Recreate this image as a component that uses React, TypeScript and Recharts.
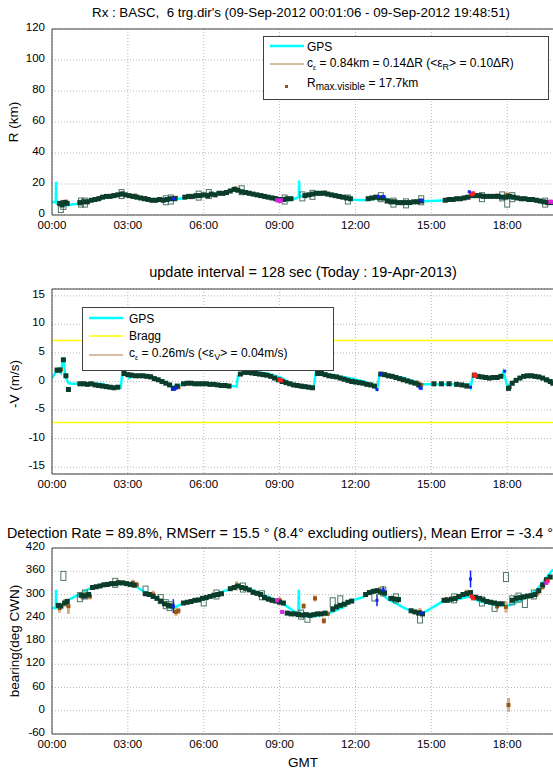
import React from "react";
import {
  CartesianGrid,
  ComposedChart,
  ErrorBar,
  Line,
  ReferenceLine,
  Scatter,
  XAxis,
  YAxis,
} from "recharts";

type P = [number, number];
type PE = [number, number, number];

// time axis (hours GMT)
const xDomain = [0, 19.85];
const xTicks = [0, 3, 6, 9, 12, 15, 18];

// ---- range panel (km) ----
const rangeTicks = [0, 20, 40, 60, 80, 100, 120];
const gpsRange: P[] = [
  [0, 8.4], [0.15, 8.5], [0.16, 21.5], [0.17, 7.5], [0.22, 7], [0.5, 6.2], [1.0, 7.3], [1.5, 9.5],
  [2.0, 11.6], [2.5, 12.5], [2.8, 13.4], [3.1, 12.3], [3.5, 11], [4.0, 10], [4.4, 9], [4.9, 10.1],
  [5.5, 11.6], [6.0, 12.7], [6.6, 13.8], [7.0, 15.6], [7.3, 16.5], [7.7, 14.5], [8.3, 12], [8.9, 10],
  [9.15, 9], [9.6, 10.5], [9.76, 11.6], [9.77, 22.2], [9.79, 11.8], [9.82, 12], [10.1, 12.7],
  [10.5, 14.3], [11.0, 13.4], [11.4, 11.6], [11.95, 9.9], [12.4, 9.5], [12.8, 10.5], [13.1, 11.6],
  [13.35, 9.5], [13.6, 8.1], [14.05, 7.7], [14.6, 8.8], [15.0, 9], [15.6, 9.5], [16.2, 10.5],
  [16.6, 12], [17.0, 12.3], [17.6, 12], [18.1, 11], [18.7, 10.3], [19.2, 9], [19.7, 8.4], [19.85, 8],
];
const rangeObs: P[] = [
  [0.3, 7.5], [0.4, 6.5], [0.5, 8], [0.6, 7.5],
  [1.1, 8], [1.25, 8.5], [1.4, 8.5], [1.55, 9.5], [1.7, 10], [1.85, 10.5], [2.0, 11.5], [2.15, 12],
  [2.3, 12], [2.45, 12.5], [2.6, 13], [2.75, 13.5], [2.9, 13], [3.05, 12.5], [3.2, 12], [3.35, 11.5],
  [3.5, 11], [3.65, 10.5], [3.8, 10], [3.95, 9.5], [4.1, 9.5], [4.25, 10], [4.4, 9.5], [4.55, 10],
  [4.7, 10.5], [4.85, 10.5],
  [5.25, 11.5], [5.4, 12], [5.55, 12], [5.7, 12.5], [5.85, 12.5], [6.0, 13], [6.15, 12.5], [6.3, 13.5],
  [6.45, 13], [6.6, 14], [6.75, 14], [6.9, 14.5], [7.05, 15.5], [7.2, 16.5], [7.35, 16], [7.5, 15],
  [7.65, 14.5], [7.8, 14], [7.95, 13.5], [8.1, 13], [8.25, 12.5], [8.4, 12], [8.55, 11.5], [8.7, 11],
  [8.85, 10.5], [9.0, 10], [9.15, 10], [9.3, 10.5], [9.45, 10.5],
  [10.0, 12.5], [10.15, 13], [10.3, 13.5], [10.45, 14], [10.6, 14], [10.75, 14], [10.9, 13.5],
  [11.05, 13], [11.2, 12.5], [11.35, 12], [11.5, 11.5], [11.65, 11], [11.8, 10.5],
  [12.5, 10.5], [12.65, 11], [12.8, 11.5], [12.95, 11], [13.1, 11], [13.25, 9], [13.4, 8.5],
  [13.55, 8.5], [13.7, 8], [13.85, 8], [14.0, 8], [14.15, 8], [14.3, 8.5], [14.45, 8.5], [14.6, 9],
  [15.55, 9.5], [15.7, 10], [15.85, 10], [16.0, 10.5], [16.15, 10.5], [16.3, 11], [16.45, 11.5],
  [16.6, 12.5], [16.75, 12.5], [16.9, 12.5], [17.05, 12], [17.2, 12], [17.35, 12], [17.5, 12],
  [17.65, 12], [17.8, 11.5], [17.95, 11.5], [18.1, 12], [18.25, 11.5], [18.4, 11], [18.55, 10.5],
  [18.7, 10.5], [18.85, 10], [19.0, 10], [19.15, 9.5], [19.3, 9], [19.45, 8.5], [19.6, 8], [19.75, 8],
];
const rangeBrown: PE[] = [
  [0.35, 7, 1.5], [0.55, 8.5, 1.5], [1.15, 7.5, 1], [1.9, 11, 1], [2.4, 12.5, 1], [2.8, 14, 1],
  [3.3, 12.5, 1], [3.7, 11, 1], [4.3, 10, 1], [4.9, 11, 1.5], [5.5, 11.5, 1], [6.2, 13, 1],
  [6.8, 14, 1.5], [7.25, 17, 1.5], [7.7, 14.5, 1], [8.3, 12.5, 1], [8.8, 11, 1], [10.2, 13, 1],
  [10.8, 14.5, 1], [11.4, 12, 1], [12.7, 11, 1], [13.3, 9.5, 1], [14.1, 8, 1], [14.5, 9, 1],
  [15.9, 10, 1], [16.4, 11.5, 1], [17.0, 12.5, 1], [17.6, 12.5, 1], [18.0, 13, 1.5], [18.6, 10.5, 1],
  [19.2, 9.5, 1], [19.7, 8.5, 1],
];
const rangeBoxes: P[] = [
  [0.35, 4.5], [0.45, 6.5], [1.15, 8], [1.3, 8], [2.75, 13.5], [4.5, 9.5], [4.7, 10], [5.8, 12.5],
  [6.2, 13.5], [7.5, 16], [9.2, 10], [9.9, 12], [10.3, 13], [11.7, 10], [13.0, 11.5], [13.5, 8],
  [14.0, 7.5], [14.6, 9.5], [17.0, 11.5], [17.8, 12], [18.0, 8], [18.2, 11.5], [19.5, 8],
];
const rangeRed: P[] = [[16.6, 13.5], [16.65, 14]];
const rangeMagenta: P[] = [[8.9, 9.5], [9.0, 9], [9.05, 9.5], [19.7, 8.5], [19.8, 8.5]];
const rangeBlue: P[] = [[4.8, 10.5], [12.9, 12], [13.1, 12], [14.6, 9.5], [16.5, 15]];

// ---- radial velocity panel (m/s) ----
const velTicks = [-15, -10, -5, 0, 5, 10, 15];
const braggLevels = [7.2, -7.2];
const gpsVel: P[] = [
  [0, 0.6], [0.15, 1.6], [0.25, 2.0], [0.35, 1.5], [0.42, 3.5], [0.47, 3.6], [0.52, 0.9], [0.65, -0.3],
  [0.8, -0.4], [1.2, -0.4], [2.0, -0.4], [2.1, -0.7], [2.25, -1.1], [2.72, -1.1], [2.78, 1.5],
  [2.95, 1.3], [3.05, 0.6], [3.15, 0.9], [3.35, 1.0], [3.8, 1.0], [4.0, 0.8], [4.2, 0.3], [4.5, -0.3],
  [4.8, -1.0], [4.9, -0.8], [5.2, -0.4], [6.3, -0.4], [6.9, -0.6], [7.3, -0.9], [7.35, 1.0],
  [7.5, 1.3], [7.7, 1.7], [8.0, 1.6], [8.5, 1.4], [8.8, 1.0], [9.1, 0.6], [9.4, -0.3], [9.9, -0.8],
  [10.35, -1.1], [10.42, 1.4], [10.9, 1.3], [11.3, 0.9], [11.9, 0.5], [12.3, 0], [12.7, -0.6],
  [12.85, -1.4], [12.95, 1.3], [13.3, 1.1], [13.9, 0.6], [14.3, 0], [14.5, -0.6], [14.55, -1.1],
  [14.65, -0.5], [16.5, -0.5], [16.55, -1.0], [16.65, 1.1], [16.9, 0.8], [17.5, 0.6], [17.75, 0.8],
  [17.85, 1.8], [18.0, -0.8], [18.15, -0.3], [18.45, 0.5], [18.7, 1.0], [19.0, 1.0], [19.4, 0.6],
  [19.7, 0], [19.85, -0.3],
];
const velObs: P[] = [
  [0.2, 2.0], [0.3, 2.0], [0.45, 3.8], [0.55, 1.0], [0.65, -1.4],
  [1.1, -0.4], [1.25, -0.4], [1.4, -0.5], [1.55, -0.4], [1.7, -0.6], [1.85, -0.7], [2.0, -0.8],
  [2.15, -0.9], [2.3, -1.0], [2.45, -1.1], [2.6, -1.0],
  [2.85, 1.4], [3.0, 1.2], [3.15, 1.1], [3.3, 1.0], [3.45, 1.0], [3.6, 1.0], [3.75, 0.9], [3.9, 0.8],
  [4.05, 0.5], [4.2, 0.3], [4.35, 0], [4.5, -0.3], [4.65, -0.6], [4.8, -1.2], [4.95, -0.8],
  [5.2, -0.4], [5.35, -0.3], [5.5, -0.3], [5.65, -0.4], [5.8, -0.4], [5.95, -0.4], [6.1, -0.4],
  [6.25, -0.5], [6.4, -0.5], [6.55, -0.6], [6.7, -0.7], [6.85, -0.7], [7.0, -0.8],
  [7.45, 1.3], [7.6, 1.6], [7.75, 1.6], [7.9, 1.5], [8.05, 1.4], [8.2, 1.3], [8.35, 1.2], [8.5, 1.1],
  [8.65, 0.9], [8.8, 0.6], [8.95, 0.3], [9.1, 0], [9.25, -0.2], [9.4, -0.4], [9.55, -0.6],
  [9.7, -0.7], [9.85, -0.8], [10.0, -0.9], [10.15, -1.0], [10.3, -1.1],
  [10.5, 1.4], [10.65, 1.4], [10.8, 1.2], [10.95, 1.0], [11.1, 0.9], [11.25, 0.8], [11.4, 0.6],
  [11.55, 0.4], [11.7, 0.2], [11.85, 0], [12.0, -0.1], [12.15, -0.2], [12.3, -0.3], [12.45, -0.5],
  [12.6, -0.6], [12.75, -0.8],
  [13.0, 1.3], [13.15, 1.2], [13.3, 1.0], [13.45, 0.9], [13.6, 0.7], [13.75, 0.5], [13.9, 0.3],
  [14.05, 0.1], [14.2, -0.1], [14.35, -0.3], [14.5, -0.6],
  [15.1, -0.4], [15.4, -0.4], [15.7, -0.4], [16.0, -0.5], [16.2, -0.6], [16.4, -0.8],
  [16.7, 1.1], [16.85, 0.9], [17.0, 0.8], [17.15, 0.7], [17.3, 0.6], [17.45, 0.7], [17.6, 0.7],
  [17.75, 0.9], [18.05, -1.2], [18.2, -0.3], [18.35, 0.2], [18.5, 0.6], [18.65, 0.9], [18.8, 1.0],
  [18.95, 1.0], [19.1, 0.9], [19.25, 0.8], [19.4, 0.6], [19.55, 0.3], [19.7, 0], [19.8, -0.3],
];
const velBrown: PE[] = [
  [0.35, 2.1, 0.2], [1.3, -0.4, 0.1], [2.1, -0.8, 0.1], [3.1, 1.2, 0.1], [3.9, 0.9, 0.1],
  [5.0, -1.0, 0.2], [6.0, -0.4, 0.1], [7.0, -0.8, 0.1], [7.7, 1.6, 0.1], [8.3, 1.3, 0.1],
  [9.9, -0.9, 0.1], [10.7, 1.3, 0.1], [11.9, 0.1, 0.1], [13.2, 1.1, 0.1], [14.45, -0.2, 0.1],
  [14.6, -0.6, 0.2], [16.3, -0.7, 0.1], [17.4, 0.7, 0.1], [18.1, -1.0, 0.2], [19.0, 1.0, 0.1],
  [19.6, 0.2, 0.1],
];
const velRed: P[] = [[9.0, 0.3], [9.05, 0.2], [16.7, 1.2], [16.75, 1.0]];
const velBlue: P[] = [
  [4.8, -1.3], [4.9, -1.2], [12.85, -1.4], [13.0, 1.3], [14.55, -1.1], [14.6, -1.2], [16.55, -1.0],
  [17.9, 1.8],
];

// ---- bearing panel (deg CWN) ----
const brgTicks = [-60, 0, 60, 120, 180, 240, 300, 360, 420];
const gpsBrg: P[] = [
  [0, 265], [0.15, 265], [0.16, 312], [0.17, 268], [0.4, 275], [0.73, 289], [1.14, 302], [1.56, 318],
  [2.0, 325], [2.5, 329], [3.0, 330], [3.3, 322], [3.8, 300], [4.2, 288], [4.6, 268], [4.77, 264],
  [5.3, 281], [5.75, 285], [6.3, 297], [6.86, 310], [7.4, 320], [7.7, 317], [8.26, 302], [8.8, 287],
  [9.1, 277], [9.5, 260], [9.74, 248], [9.76, 312], [9.78, 246], [10.2, 242], [10.9, 250],
  [11.5, 267], [11.9, 285], [12.3, 293], [12.7, 312], [12.86, 310], [13.3, 287], [14.0, 263],
  [14.6, 250], [14.95, 263], [15.4, 280], [15.65, 285], [16.1, 289], [16.5, 295], [16.8, 285],
  [17.3, 276], [17.8, 272], [18.1, 272], [18.7, 290], [19.15, 311], [19.45, 335], [19.75, 360],
  [19.85, 365],
];
const brgObs: P[] = [
  [0.25, 272], [0.35, 270], [0.5, 278], [0.6, 282],
  [1.15, 298], [1.3, 296], [1.45, 300], [1.6, 318], [1.75, 320], [1.9, 322], [2.05, 325],
  [2.2, 326], [2.35, 328], [2.5, 328], [2.65, 330], [2.8, 330], [2.95, 328], [3.1, 326], [3.25, 324],
  [3.7, 302], [3.85, 300], [4.0, 295], [4.15, 290], [4.3, 283], [4.45, 276], [4.6, 272], [4.75, 270],
  [5.2, 278], [5.35, 280], [5.5, 282], [5.65, 285], [5.8, 286], [5.95, 290], [6.1, 292], [6.25, 295],
  [6.4, 298], [6.55, 300], [6.7, 302], [7.05, 315], [7.2, 318], [7.35, 322], [7.5, 318], [7.65, 316],
  [7.8, 312], [7.95, 306], [8.1, 303], [8.25, 300], [8.4, 292], [8.55, 288], [8.7, 285], [8.85, 283],
  [9.0, 280], [9.15, 278],
  [9.3, 252], [9.45, 250], [9.6, 250], [9.75, 248], [9.9, 247], [10.05, 248], [10.2, 246],
  [10.35, 248], [10.5, 250], [10.65, 250], [10.8, 252],
  [11.1, 262], [11.25, 268], [11.4, 272], [11.55, 275], [11.7, 280], [11.85, 283],
  [12.4, 300], [12.55, 305], [12.7, 308], [12.85, 310], [13.0, 306], [13.15, 304],
  [13.4, 290], [13.55, 288], [13.7, 287],
  [14.2, 258], [14.35, 255], [14.5, 252], [14.65, 250],
  [15.5, 285], [15.65, 285], [15.8, 288], [15.95, 290], [16.1, 295], [16.25, 300], [16.4, 302],
  [16.55, 305], [16.75, 293], [16.9, 290], [17.05, 286], [17.2, 282], [17.35, 280], [17.5, 278],
  [17.65, 276], [17.8, 276],
  [18.2, 285], [18.35, 290], [18.5, 292], [18.65, 294], [18.8, 296], [18.95, 297], [19.1, 300],
  [19.25, 310], [19.4, 325], [19.55, 338], [19.7, 345],
];
const brgBrown: PE[] = [
  [0.3, 265, 12], [0.5, 278, 10], [0.65, 270, 20], [1.2, 295, 10], [1.35, 300, 8], [1.5, 295, 8],
  [2.2, 325, 6], [2.6, 332, 6], [3.2, 330, 8], [3.35, 325, 8], [4.0, 300, 10], [4.9, 255, 10],
  [5.0, 258, 8], [5.5, 282, 6], [6.6, 300, 6], [7.3, 322, 12], [7.95, 305, 6], [9.0, 285, 8],
  [9.95, 270, 8], [10.4, 290, 8], [10.75, 232, 8], [10.9, 250, 6], [11.6, 275, 6], [12.95, 310, 10],
  [13.5, 290, 6], [14.55, 255, 10], [15.6, 288, 6], [16.4, 305, 8], [17.6, 270, 8],
  [17.95, 268, 15], [18.05, 15, 18], [19.2, 305, 8], [19.4, 320, 8],
];
const brgBoxes: P[] = [
  [0.45, 348], [1.1, 293], [1.3, 300], [2.5, 330], [3.7, 310], [4.3, 288], [4.5, 275], [4.65, 270],
  [6.0, 282], [6.5, 300], [7.55, 318], [8.3, 298], [9.85, 248], [10.1, 240], [11.1, 280],
  [11.4, 285], [12.75, 295], [13.1, 308], [13.6, 290], [14.55, 238], [15.9, 290], [17.0, 282],
  [17.5, 268], [17.95, 345], [18.2, 285], [18.45, 292], [18.7, 278], [19.05, 300],
];
const brgRed: P[] = [[16.6, 295], [16.65, 290], [19.6, 335]];
const brgMagenta: P[] = [[8.9, 285], [9.1, 255], [19.55, 330]];
const brgBlue: PE[] = [[4.8, 270, 18], [12.85, 285, 15], [13.1, 312, 10], [14.6, 252, 8], [16.55, 340, 22]];

const FONT = "'Liberation Sans', Arial, Helvetica, sans-serif";
const AX = "#404040";
const CYAN = "#00ffff";
const DARK = "#0b3d2c";
const BROWN = "#9a5518";
const TAN = "#d8ad86";

const pts = (a: P[]) => a.map(([t, v]) => ({ t, v }));
const ptsE = (a: PE[]) => a.map(([t, v, e]) => ({ t, v, e }));
const hhmm = (t: number) => `${String(t).padStart(2, "0")}:00`;

const sq = (size: number, fill: string) => (p: any) =>
  <rect x={p.cx - size / 2} y={p.cy - size / 2} width={size} height={size} fill={fill} />;
const openBox = (p: any) => (
  <rect x={p.cx - 2.5} y={p.cy - 4.5} width={5} height={9} fill="none" stroke="#4d7566" strokeWidth={1} />
);

function Panel(props: {
  top: number;
  height: number;
  yDomain: number[];
  yTicks: number[];
  children: React.ReactNode;
}) {
  const { top, height, yDomain, yTicks, children } = props;
  const common = { type: "number" as const, allowDataOverflow: true };
  return (
    <div style={{ position: "absolute", left: 0, top }}>
      <ComposedChart width={560} height={height} margin={{ top: 29, right: 6, bottom: 0, left: 0 }}>
        <CartesianGrid stroke="#b8b8b8" strokeDasharray="1 2" />
        <XAxis {...common} dataKey="t" domain={xDomain} ticks={xTicks} tickFormatter={hhmm}
          height={20} tickSize={0} tickMargin={6} tickLine={false} axisLine={{ stroke: AX }}
          tick={{ fill: "#000", fontSize: 11.5, fontFamily: FONT }} />
        <XAxis {...common} xAxisId="bt" dataKey="t" domain={xDomain} ticks={xTicks} mirror
          tick={false} axisLine={false} tickSize={5} tickLine={{ stroke: AX }} />
        <XAxis {...common} xAxisId="tp" orientation="top" dataKey="t" domain={xDomain} ticks={xTicks}
          mirror tick={false} axisLine={{ stroke: AX }} tickSize={5} tickLine={{ stroke: AX }} />
        <YAxis {...common} dataKey="v" domain={yDomain} ticks={yTicks} width={52} tickSize={0}
          tickMargin={7} tickLine={false} axisLine={{ stroke: AX }}
          tick={{ fill: "#000", fontSize: 11.5, fontFamily: FONT, dy: -2 }} />
        <YAxis {...common} yAxisId="lt" dataKey="v" domain={yDomain} ticks={yTicks} mirror
          tick={false} axisLine={false} tickSize={5} tickLine={{ stroke: AX }} />
        <YAxis {...common} yAxisId="rt" orientation="right" dataKey="v" domain={yDomain} ticks={yTicks}
          mirror tick={false} axisLine={{ stroke: AX }} tickSize={5} tickLine={{ stroke: AX }} />
        {children}
      </ComposedChart>
    </div>
  );
}

function series(gps: P[], obs: P[], brown: PE[], boxes: P[], red: P[], magenta: P[], blue: P[] | PE[], blueErr: boolean) {
  return [
    <Line key="gps" data={pts(gps)} dataKey="v" type="linear" stroke={CYAN} strokeWidth={2.5}
      dot={false} isAnimationActive={false} />,
    <Scatter key="brown" data={ptsE(brown)} dataKey="v" shape={sq(4, BROWN)} isAnimationActive={false}>
      <ErrorBar dataKey="e" direction="y" width={0} stroke={TAN} strokeWidth={3} />
    </Scatter>,
    <Scatter key="boxes" data={pts(boxes)} dataKey="v" shape={openBox} isAnimationActive={false} />,
    <Scatter key="obs" data={pts(obs)} dataKey="v" shape={sq(5, DARK)} isAnimationActive={false} />,
    <Scatter key="red" data={pts(red)} dataKey="v" shape={sq(4, "#ff2020")} isAnimationActive={false} />,
    <Scatter key="mag" data={pts(magenta)} dataKey="v" shape={sq(4, "#e020e0")} isAnimationActive={false} />,
    blueErr ? (
      <Scatter key="blue" data={ptsE(blue as PE[])} dataKey="v" shape={sq(3, "#1020ff")} isAnimationActive={false}>
        <ErrorBar dataKey="e" direction="y" width={0} stroke="#1020ff" strokeWidth={1.5} />
      </Scatter>
    ) : (
      <Scatter key="blue" data={pts(blue as P[])} dataKey="v" shape={sq(3, "#1020ff")} isAnimationActive={false} />
    ),
  ];
}

const txt = (x: number, y: number, s: React.ReactNode, size = 12, rotate = false): React.ReactNode => (
  <div style={{
    position: "absolute", left: x, top: y, fontSize: size, whiteSpace: "pre", lineHeight: 1,
    transform: rotate ? "translate(-50%, -50%) rotate(-90deg)" : "translate(-50%, -50%)",
  }}>{s}</div>
);

const lineSample = (color: string, w: number) => (
  <svg width={34} height={6} style={{ display: "block" }}>
    <line x1={0} y1={3} x2={34} y2={3} stroke={color} strokeWidth={w} />
  </svg>
);

export default function App() {
  return (
    <div style={{
      position: "absolute", left: 0, top: 0, width: 553, height: 773, overflow: "hidden",
      background: "#fff", fontFamily: FONT, color: "#000",
    }}>
      {txt(301, 13, "Rx : BASC,  6 trg.dir's (09-Sep-2012 00:01:06 - 09-Sep-2012 19:48:51)", 13.3)}
      {txt(303, 272, "update interval = 128 sec (Today : 19-Apr-2013)", 14.5)}
      <div style={{
        position: "absolute", left: 7, top: 533, transform: "translateY(-50%)", fontSize: 14.3,
        whiteSpace: "pre", lineHeight: 1,
      }}>
        Detection Rate = 89.8%, RMSerr = 15.5 ° (8.4° excluding outliers), Mean Error = -3.4 °
      </div>

      <Panel top={0} height={235} yDomain={[0, 120]} yTicks={rangeTicks}>
        {series(gpsRange, rangeObs, rangeBrown, rangeBoxes, rangeRed, rangeMagenta, rangeBlue, false)}
      </Panel>
      <Panel top={260} height={234} yDomain={[-16.2, 16.2]} yTicks={velTicks}>
        {braggLevels.map((b) => (
          <ReferenceLine key={b} y={b} stroke="#ffff00" strokeWidth={1.5} />
        ))}
        {series(gpsVel, velObs, velBrown, [], velRed, [], velBlue, false)}
      </Panel>
      <Panel top={519} height={235} yDomain={[-60, 420]} yTicks={brgTicks}>
        {series(gpsBrg, brgObs, brgBrown, brgBoxes, brgRed, brgMagenta, brgBlue, true)}
      </Panel>

      {txt(14, 122, "R (km)", 13.5, true)}
      {txt(15, 384, "-V (m/s)", 13.5, true)}
      {txt(15, 641, "bearing(deg CWN)", 13.5, true)}
      {txt(303, 763, "GMT", 13.5)}

      {/* legend, range panel */}
      <div style={{
        position: "absolute", left: 263, top: 36, width: 284, height: 62, border: `1px solid ${AX}`,
        background: "#fff", fontSize: 12,
      }}>
        <div style={{ position: "absolute", left: 6, top: 6 }}>{lineSample(CYAN, 2.5)}</div>
        <div style={{ position: "absolute", left: 43, top: 3 }}>GPS</div>
        <div style={{ position: "absolute", left: 6, top: 24 }}>{lineSample("#b07a4a", 1)}</div>
        <div style={{ position: "absolute", left: 43, top: 19 }}>
          c<sub style={{ fontSize: 7 }}>ε</sub> = 0.84km = 0.14ΔR (&lt;ε<sub style={{ fontSize: 9 }}>R</sub>&gt; = 0.10ΔR)
        </div>
        <div style={{ position: "absolute", left: 21, top: 48, width: 3, height: 3, background: BROWN }} />
        <div style={{ position: "absolute", left: 43, top: 39 }}>
          R<sub style={{ fontSize: 10 }}>max.visible</sub> = 17.7km
        </div>
      </div>

      {/* legend, velocity panel */}
      <div style={{
        position: "absolute", left: 82, top: 307, width: 250, height: 62, border: `1px solid ${AX}`,
        background: "#fff", fontSize: 12,
      }}>
        <div style={{ position: "absolute", left: 6, top: 7 }}>{lineSample(CYAN, 2.5)}</div>
        <div style={{ position: "absolute", left: 46, top: 4 }}>GPS</div>
        <div style={{ position: "absolute", left: 6, top: 25 }}>{lineSample("#ffff00", 1.5)}</div>
        <div style={{ position: "absolute", left: 46, top: 21 }}>Bragg</div>
        <div style={{ position: "absolute", left: 6, top: 44 }}>{lineSample("#b07a4a", 1)}</div>
        <div style={{ position: "absolute", left: 46, top: 38 }}>
          c<sub style={{ fontSize: 7 }}>ε</sub> = 0.26m/s (&lt;ε<sub style={{ fontSize: 9 }}>V</sub>&gt; = 0.04m/s)
        </div>
      </div>
    </div>
  );
}
